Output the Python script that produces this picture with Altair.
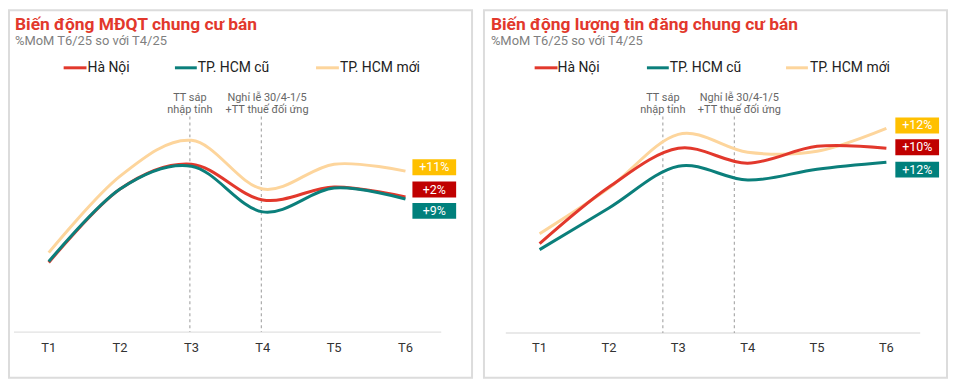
import altair as alt
import pandas as pd

# ---------------- data ----------------
months = ["T1", "T2", "T3", "T4", "T5", "T6"]
series = ["Hà Nội", "TP. HCM cũ", "TP. HCM mới"]

# Left panel: price index (relative units)
price_hn = [35, 72, 84.5, 66.5, 73, 68]
price_hcm_old = [35.5, 72, 83.5, 60.5, 72.5, 67]
price_hcm_new = [40, 78.5, 96.5, 72, 84.5, 81]
price_badges = ["+2%", "+9%", "+11%"]  # HN, HCM cũ, HCM mới

# Right panel: listings volume (relative units)
listing_hn = [44.5, 73, 92.5, 85, 93.5, 92.5]
listing_hcm_old = [41.5, 62.5, 83.5, 76.5, 82, 85.5]
listing_hcm_new = [49.5, 72.5, 99.5, 90.5, 91, 102.5]
listing_badges = ["+10%", "+12%", "+12%"]  # HN, HCM cũ, HCM mới

annotations = ["TT sáp\nnhập tỉnh", "Nghỉ lễ 30/4-1/5\n+TT thuế đối ứng"]

# ---------------- style ----------------
FONT = "Roboto"
line_colors = ["#E2382C", "#0B7F7B", "#FDD59C"]
badge_colors = ["#C00000", "#00807C", "#FFC000"]
TITLE_RED = "#E2382C"
W, H = 466, 370
Y_DOMAIN = [-23, 162]
BADGE_PATH = "M-1,-0.364L1,-0.364L1,0.364L-1,0.364Z"


def one(): return pd.DataFrame({"k": [0]})


def panel(title, subtitle, vals, badges, x_domain, dash_x, ann_x, axis_x, axis_y,
          legend_lines, legend_text_x, badge_x, badge_y, title_x):
    xs = alt.Scale(domain=x_domain, nice=False, zero=False)
    ys = alt.Scale(domain=Y_DOMAIN, nice=False, zero=False)
    layers = []

    # axis baseline
    layers.append(alt.Chart(one()).mark_rule(color="#e2e2e2", strokeWidth=1.5).encode(
        x=alt.value(axis_x[0]), x2=alt.value(axis_x[1]), y=alt.value(axis_y)))

    # dashed event lines
    ddf = pd.DataFrame({"x": dash_x})
    layers.append(alt.Chart(ddf).mark_rule(color="#aaaaaa", strokeWidth=1.2, strokeDash=[3, 3]).encode(
        x=alt.X("x:Q", scale=xs, axis=None), y=alt.value(107), y2=alt.value(axis_y)))

    # annotations
    adf = pd.DataFrame({"x": ann_x, "t": annotations})
    layers.append(alt.Chart(adf).mark_text(font=FONT, fontSize=11, color="#666666", lineBreak="\n",
                                           lineHeight=12.5, baseline="top", align="center").encode(
        x=alt.X("x:Q", scale=xs, axis=None), y=alt.value(82), text="t:N"))

    # lines (draw order: HCM mới, Hà Nội, HCM cũ)
    for si in [2, 0, 1]:
        df = pd.DataFrame({"idx": list(range(1, len(months) + 1)), "value": vals[si]})
        layers.append(alt.Chart(df).mark_line(strokeWidth=3, interpolate="cardinal", tension=0,
                                              color=line_colors[si]).encode(
            x=alt.X("idx:Q", scale=xs, axis=None),
            y=alt.Y("value:Q", scale=ys, axis=None)))

    # tick labels
    tdf = pd.DataFrame({"idx": list(range(1, len(months) + 1)), "m": months})
    layers.append(alt.Chart(tdf).mark_text(font=FONT, fontSize=13, color="#333333",
                                           baseline="middle").encode(
        x=alt.X("idx:Q", scale=xs, axis=None), y=alt.value(340), text="m:N"))

    # badges
    bdf = pd.DataFrame({"s": series, "t": badges, "y": badge_y})
    layers.append(alt.Chart(bdf).mark_point(shape=BADGE_PATH, size=1936, filled=True, opacity=1,
                                            strokeWidth=0).encode(
        x=alt.value(badge_x), y=alt.Y("y:Q", scale=ys, axis=None),
        color=alt.Color("s:N", scale=alt.Scale(domain=series, range=badge_colors), legend=None)))
    layers.append(alt.Chart(bdf).mark_text(font=FONT, fontSize=12.5, color="white",
                                           baseline="middle", align="center").encode(
        x=alt.value(badge_x), y=alt.Y("y:Q", scale=ys, axis=None), text="t:N"))

    # legend
    for si in range(3):
        layers.append(alt.Chart(one()).mark_rule(strokeWidth=3, color=line_colors[si]).encode(
            x=alt.value(legend_lines[si][0]), x2=alt.value(legend_lines[si][1]), y=alt.value(58)))
        layers.append(alt.Chart(one()).mark_text(font=FONT, fontSize=14, color="#222222",
                                                 align="left", baseline="middle",
                                                 text=series[si]).encode(
            x=alt.value(legend_text_x[si]), y=alt.value(58)))

    # titles
    layers.append(alt.Chart(one()).mark_text(font=FONT, fontSize=17.5, fontWeight="bold",
                                             color=TITLE_RED, align="left", baseline="alphabetic",
                                             text=title).encode(
        x=alt.value(title_x), y=alt.value(20)))
    layers.append(alt.Chart(one()).mark_text(font=FONT, fontSize=13, color="#7f7f7f",
                                             align="left", baseline="alphabetic",
                                             text=subtitle).encode(
        x=alt.value(title_x), y=alt.value(35.5)))

    return alt.layer(*layers).properties(width=W, height=H)


left = panel("Biến động MĐQT chung cư bán", "%MoM T6/25 so với T4/25",
             [price_hn, price_hcm_old, price_hcm_new], price_badges,
             x_domain=[0.443, 6.933], dash_x=[2.978, 3.98], ann_x=[2.978, 4.06],
             axis_x=[5, 435], axis_y=324,
             legend_lines=[[55, 78], [167, 189], [309, 332]], legend_text_x=[79, 190, 333],
             badge_x=428, badge_y=[71.75, 61, 83], title_x=6)

right = panel("Biến động lượng tin đăng chung cư bán", "%MoM T6/25 so với T4/25",
              [listing_hn, listing_hcm_old, listing_hcm_new], listing_badges,
              x_domain=[0.198, 6.874], dash_x=[2.777, 3.808], ann_x=[2.777, 3.88],
              axis_x=[22, 439], axis_y=325,
              legend_lines=[[51, 74], [164, 186], [304, 326]], legend_text_x=[74, 187, 328],
              badge_x=436, badge_y=[93, 81.75, 104], title_x=7)

chart = alt.hconcat(left, right, spacing=10).properties(
    padding={"left": 0, "top": 0, "right": 1, "bottom": 1}, background="white"
).configure_view(stroke="#dcdcdc", strokeWidth=2)

chart.save("out.html", embed_options={"renderer": "svg", "actions": False})
